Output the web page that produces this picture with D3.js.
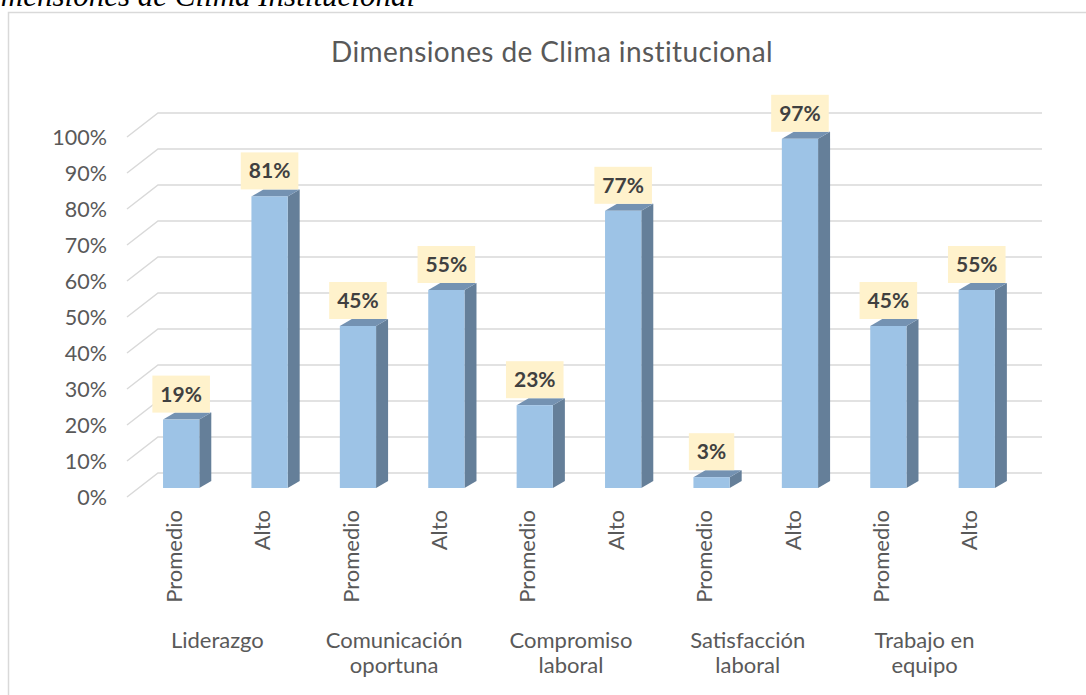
<!DOCTYPE html>
<html>
<head>
<meta charset="utf-8">
<script src="https://cdn.jsdelivr.net/npm/d3@7"></script>
<style>
  body { margin: 0; background: #fff; }
  svg { display: block; }
</style>
</head>
<body>
<svg width="1086" height="695"></svg>
<script>
const categories = ['Liderazgo', 'Comunicación\noportuna', 'Compromiso\nlaboral', 'Satisfacción\nlaboral', 'Trabajo en\nequipo']
const levels = ['Promedio', 'Alto']
const promedio = [19, 45, 23, 3, 45]
const alto = [81, 55, 77, 97, 55]
const yTicks = [0, 10, 20, 30, 40, 50, 60, 70, 80, 90, 100]

// one row per bar
let bars = []
categories.forEach(function(c, i) {
  bars.push({ key: i + '-P', cat: i, level: levels[0], value: promedio[i] })
  bars.push({ key: i + '-A', cat: i, level: levels[1], value: alto[i] })
})

let svg = d3.select('svg')
let font = 'Lato, "Open Sans", sans-serif'
let grid = '#d9d9d9'

// outer frame (only top and left are inside the picture)
svg.append('rect')
  .attr('x', 8.5).attr('y', 12.5)
  .attr('width', 1200).attr('height', 800)
  .attr('fill', 'none').attr('stroke', grid).attr('stroke-width', 1.5)

// caption, cut off by the top edge as in the source
svg.append('text')
  .attr('x', 415).attr('y', 6)
  .attr('text-anchor', 'end')
  .style('font-family', '"Liberation Serif", "Times New Roman", serif')
  .style('font-style', 'italic')
  .style('font-size', '31px')
  .text('Dimensiones de Clima Institucional')

svg.append('text')
  .attr('x', 552).attr('y', 62)
  .attr('text-anchor', 'middle')
  .style('font-family', font).style('font-size', '28px')
  .style('letter-spacing', '0.4px')
  .attr('fill', '#595959')
  .text('Dimensiones de Clima institucional')

// scales: back wall, front floor of the bars, front edge of the side wall
let x = d3.scaleBand().domain(bars.map(d => d.key)).range([158, 1042])
let yBack = d3.scaleLinear().domain([0, 100]).range([473, 113])
let yFront = d3.scaleLinear().domain([0, 100]).range([488, 128])
let yEdge = d3.scaleLinear().domain([0, 100]).range([497, 137])
let depthX = 12, depthY = 7
let barOff = x.bandwidth() * 0.057
let barW = x.bandwidth() * 0.41
let cx = d => x(d.key) + barOff + barW / 2

// gridlines: diagonal on the side wall + horizontal on the back wall
let gl = svg.append('g').attr('stroke', grid).attr('stroke-width', 1.5).attr('fill', 'none')
gl.selectAll('path').data(yTicks).enter().append('path')
  .attr('d', t => 'M127,' + yEdge(t) + 'L158,' + yBack(t) + 'H1042')

svg.append('g').selectAll('text').data(yTicks).enter().append('text')
  .attr('x', 107).attr('y', t => yEdge(t))
  .attr('dy', '0.35em')
  .attr('text-anchor', 'end')
  .attr('fill', '#595959')
  .style('font-family', font).style('font-size', '21.5px')
  .text(t => t + '%')

// 3d columns
let col = svg.append('g').selectAll('g').data(bars).enter().append('g')

col.append('path')
  .attr('fill', '#657f99')
  .attr('d', function(d) {
    let x1 = x(d.key) + barOff + barW, y0 = yFront(0), y1 = yFront(d.value)
    return 'M' + x1 + ',' + y0 + 'V' + y1 + 'l' + depthX + ',' + (-depthY) + 'V' + (y0 - depthY) + 'Z'
  })

col.append('path')
  .attr('fill', '#7492b2')
  .attr('d', function(d) {
    let x0 = x(d.key) + barOff, y1 = yFront(d.value)
    return 'M' + x0 + ',' + y1 + 'h' + barW + 'l' + depthX + ',' + (-depthY) + 'h' + (-barW) + 'Z'
  })

col.append('rect')
  .attr('x', d => x(d.key) + barOff)
  .attr('y', d => yFront(d.value))
  .attr('width', barW)
  .attr('height', d => yFront(0) - yFront(d.value))
  .attr('fill', '#9dc3e6')

// data labels in pale yellow boxes
let lab = col.append('g')
lab.append('rect').attr('fill', '#fff2cc')
lab.append('text')
  .attr('text-anchor', 'middle')
  .attr('fill', '#404040')
  .style('font-family', font).style('font-size', '21px').style('font-weight', 'bold')
  .attr('x', d => cx(d))
  .attr('y', d => yFront(d.value) - depthY - 18.5)
  .attr('dy', '0.36em')
  .text(d => d.value + '%')
lab.each(function(d) {
  let g = d3.select(this)
  let w = g.select('text').node().getComputedTextLength() + 16
  g.select('rect')
    .attr('x', cx(d) - w / 2)
    .attr('y', yFront(d.value) - depthY - 37)
    .attr('width', w).attr('height', 37)
})

// level labels, rotated
svg.append('g').selectAll('text').data(bars).enter().append('text')
  .attr('transform', d => 'translate(' + (cx(d) - 7) + ',510) rotate(-90)')
  .attr('dy', '0.35em')
  .attr('text-anchor', 'end')
  .attr('fill', '#595959')
  .style('font-family', font).style('font-size', '22px')
  .text(d => d.level)

// category labels
let cat = svg.append('g').selectAll('text').data(categories).enter().append('text')
  .attr('text-anchor', 'middle')
  .attr('fill', '#595959')
  .style('font-family', font).style('font-size', '22px')
  .attr('transform', function(c, i) {
    let mid = (cx(bars[i * 2]) + cx(bars[i * 2 + 1])) / 2 - 8
    return 'translate(' + mid + ',648)'
  })
cat.selectAll('tspan').data(c => c.split('\n')).enter().append('tspan')
  .attr('x', 0)
  .attr('y', (l, j) => j * 25)
  .text(l => l)
</script>
</body>
</html>
